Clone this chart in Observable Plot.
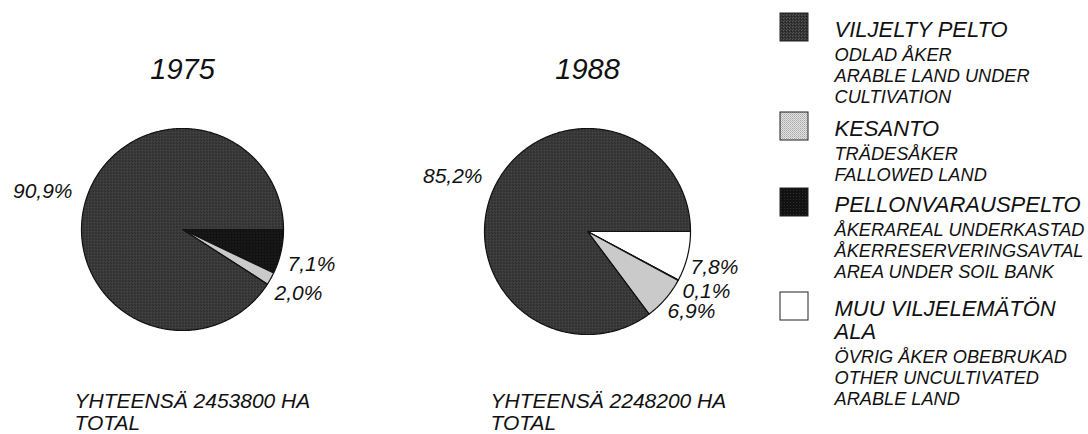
<!DOCTYPE html>
<html><head><meta charset="utf-8">
<script src="https://cdn.jsdelivr.net/npm/d3@7"></script>
<script src="https://cdn.jsdelivr.net/npm/@observablehq/plot@0.6"></script>
<style>
body{margin:0;background:#fff}
#chart svg{display:block}
</style>
</head><body>
<svg width="0" height="0" style="position:absolute">
  <defs>
    <pattern id="pViljelty" width="3" height="3" patternUnits="userSpaceOnUse">
      <rect width="3" height="3" fill="#333"/>
      <rect x="0" y="0" width="1" height="1" fill="#5a5a5a"/>
      <rect x="2" y="1" width="1" height="1" fill="#222"/>
      <rect x="1" y="2" width="1" height="1" fill="#505050"/>
    </pattern>
    <pattern id="pKesanto" width="2" height="2" patternUnits="userSpaceOnUse">
      <rect width="2" height="2" fill="#e2e2e2"/>
      <rect x="0" y="0" width="1" height="1" fill="#a8a8a8"/>
      <rect x="1" y="1" width="1" height="1" fill="#bdbdbd"/>
    </pattern>
    <pattern id="pPellon" width="3" height="3" patternUnits="userSpaceOnUse">
      <rect width="3" height="3" fill="#121212"/>
      <rect x="1" y="1" width="1" height="1" fill="#2e2e2e"/>
    </pattern>
  </defs>
</svg>
<div id="chart"></div>
<script>
// ---- data ----
const categories = ["MUU", "PELLONVARAUS", "KESANTO", "VILJELTY"];
const years = ["1975", "1988"];
const shares1975 = [0, 7.1, 2.0, 90.9];
const shares1988 = [7.8, 0.1, 6.9, 85.2];
const totalLabels = ["YHTEENSÄ 2453800 HA\nTOTAL", "YHTEENSÄ 2248200 HA\nTOTAL"];
const legendCategories = ["VILJELTY", "KESANTO", "PELLONVARAUS", "MUU"];
const legendTitles = ["VILJELTY PELTO", "KESANTO", "PELLONVARAUSPELTO", "MUU VILJELEMÄTÖN\nALA"];
const legendSubtitles = [
  "ODLAD ÅKER\nARABLE LAND UNDER\nCULTIVATION",
  "TRÄDESÅKER\nFALLOWED LAND",
  "ÅKERAREAL UNDERKASTAD\nÅKERRESERVERINGSAVTAL\nAREA UNDER SOIL BANK",
  "ÖVRIG ÅKER OBEBRUKAD\nOTHER UNCULTIVATED\nARABLE LAND"
];
const palette = ["#ffffff", "url(#pPellon)", "url(#pKesanto)", "url(#pViljelty)"];

// ---- layout ----
const W = 1088, H = 434;
const FONT = "'Liberation Sans', Arial, Helvetica, sans-serif";
const pies = [{cx: 182, cy: 229, r: 101}, {cx: 587, cy: 231, r: 103}];
const titleBaseline = 78;
// label offsets from pie centre (dx, baseline dy, anchor)
const labelOffsets = [
  {VILJELTY: [-110, -32, "end"], PELLONVARAUS: [105, 41, "start"], KESANTO: [92, 70, "start"]},
  {VILJELTY: [-105, -49, "end"], MUU: [103, 42, "start"], PELLONVARAUS: [95, 66, "start"], KESANTO: [80, 86, "start"]}
];
const totalX = [74, 490], totalBaseline = 407;
const legendSwatchX = 780, legendSwatch = 28, legendTextX = 834;
const legendHeaderBaselines = [36, 135, 211, 315];
const HF = 22, SF = 18.2;

const allShares = [shares1975, shares1988];
const fmt = v => d3.format(".1f")(v).replace(".", ",") + "%";

// pie polygons
const slicePoints = [];
const labels = [];
years.forEach((year, yi) => {
  const rows = categories.map((c, i) => ({category: c, value: allShares[yi][i]}));
  const arcs = d3.pie().sort(null).value(d => d.value)
    .startAngle(Math.PI / 2).endAngle(Math.PI / 2 + 2 * Math.PI)(rows);
  const {cx, cy, r} = pies[yi];
  arcs.forEach(a => {
    if (a.data.value <= 0) return;
    const key = year + "-" + a.data.category;
    slicePoints.push({key, category: a.data.category, x: cx, y: cy});
    const n = Math.max(2, Math.ceil((a.endAngle - a.startAngle) / (Math.PI / 360)));
    for (let k = 0; k <= n; k++) {
      const t = a.startAngle + (a.endAngle - a.startAngle) * k / n;
      slicePoints.push({key, category: a.data.category, x: cx + r * Math.sin(t), y: cy - r * Math.cos(t)});
    }
    const off = labelOffsets[yi][a.data.category];
    if (off) labels.push({x: cx + off[0], y: cy + off[1], anchor: off[2], text: fmt(a.data.value)});
  });
});

const legendRows = legendCategories.map((c, i) => {
  const nTitle = legendTitles[i].split("\n").length;
  const b = legendHeaderBaselines[i];
  return {
    category: c,
    title: legendTitles[i],
    sub: legendSubtitles[i],
    titleY: b - 0.71 * HF,
    subY: b + 23 * (nTitle - 1) + 22.5 - 0.71 * SF,
    y1: b - 23, y2: b - 23 + legendSwatch
  };
});

const chart = Plot.plot({
  width: W, height: H,
  margin: 0,
  style: {fontFamily: FONT, background: "#fff", color: "#111"},
  x: {domain: [0, W], range: [0, W], axis: null},
  y: {domain: [0, H], range: [0, H], axis: null},
  color: {type: "ordinal", domain: categories, range: palette},
  marks: [
    Plot.line(slicePoints, {x: "x", y: "y", z: "key", fill: "category", stroke: "#111", strokeWidth: 1.2, curve: "linear-closed"}),
    Plot.text(years, {x: (d, i) => pies[i].cx, y: titleBaseline, text: d => d, fontSize: 29, fontStyle: "italic", lineAnchor: "bottom", fill: "#111"}),
    Plot.text(labels.filter(d => d.anchor === "end"), {x: "x", y: "y", text: "text", textAnchor: "end", lineAnchor: "bottom", fontSize: 21, fontStyle: "italic", fill: "#111"}),
    Plot.text(labels.filter(d => d.anchor === "start"), {x: "x", y: "y", text: "text", textAnchor: "start", lineAnchor: "bottom", fontSize: 21, fontStyle: "italic", fill: "#111"}),
    Plot.text(totalLabels, {x: (d, i) => totalX[i], y: totalBaseline - 0.71 * 21, text: d => d, textAnchor: "start", lineAnchor: "top", lineHeight: 1.05, fontSize: 21, fontStyle: "italic", fill: "#111"}),
    Plot.rect(legendRows, {x1: legendSwatchX, x2: legendSwatchX + legendSwatch, y1: "y1", y2: "y2", fill: "category", stroke: "#222", strokeWidth: 1}),
    Plot.text(legendRows, {x: legendTextX, y: "titleY", text: "title", textAnchor: "start", lineAnchor: "top", lineHeight: 1.05, fontSize: HF, fontStyle: "italic", fill: "#111"}),
    Plot.text(legendRows, {x: legendTextX, y: "subY", text: "sub", textAnchor: "start", lineAnchor: "top", lineHeight: 1.15, fontSize: SF, fontStyle: "italic", fill: "#111"})
  ]
});
document.getElementById("chart").append(chart);
</script>
</body></html>
